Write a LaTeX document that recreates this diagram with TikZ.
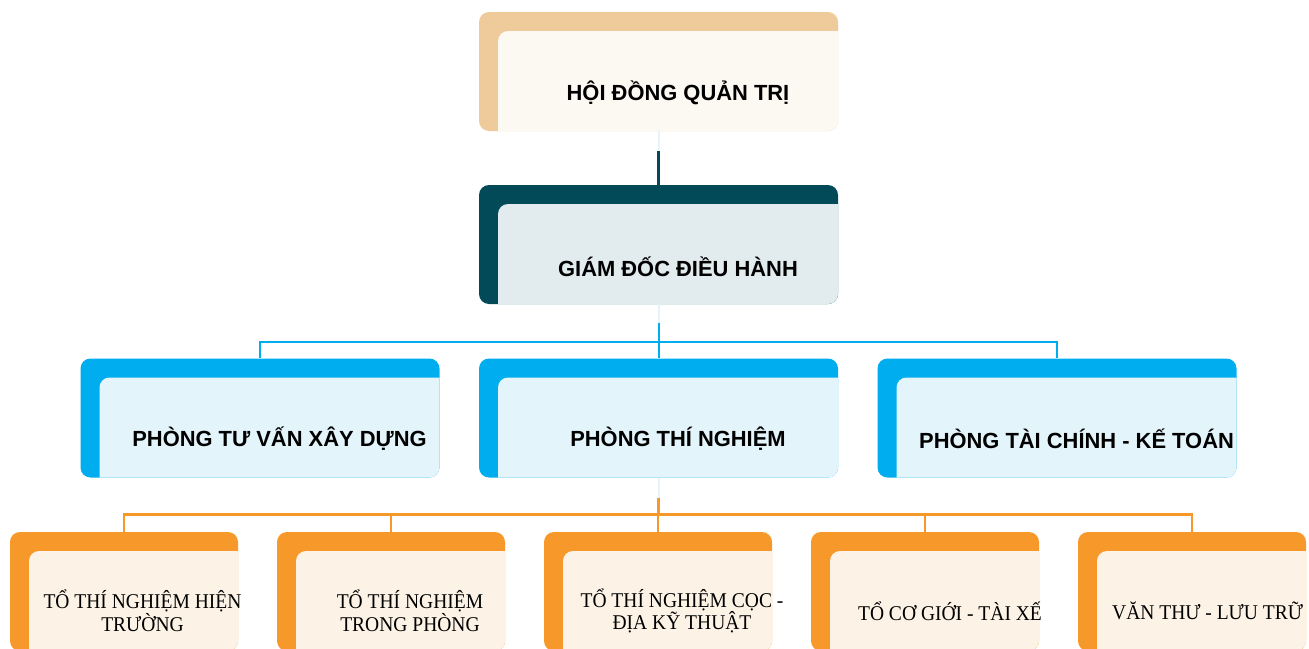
\documentclass[tikz,border=0pt]{standalone}
\usepackage{fontspec}
\setmainfont{Liberation Serif}
\newfontfamily\headfont{Liberation Sans}
\newfontfamily\teamfont[FakeStretch=0.93]{Liberation Serif}

\definecolor{boardtan}{HTML}{EFCB9C}
\definecolor{boardcream}{HTML}{FCF8F2}
\definecolor{ceoteal}{HTML}{034A58}
\definecolor{ceomist}{HTML}{E2EBEE}
\definecolor{deptblue}{HTML}{00AEEF}
\definecolor{deptice}{HTML}{E3F4FB}
\definecolor{teamorange}{HTML}{F7992A}
\definecolor{teamcream}{HTML}{FCF3E6}
\definecolor{palelink}{HTML}{E6F3F8}

\begin{document}
\begin{tikzpicture}[
        x=1pt, y=-1pt,
        unit/.style 2 args={rounded corners=10pt, fill=#1, inner sep=0pt,
            minimum width=359pt, minimum height=119pt,
            path picture={\fill[#2, rounded corners=10pt]
                ([shift={(19,19)}]path picture bounding box.north west) rectangle
                ([shift={(20,20)}]path picture bounding box.south east);}},
        team/.style 2 args={unit={#1}{#2}, minimum width=228pt},
        head/.style={font=\headfont\bfseries\fontsize{21.9}{24}\selectfont, inner sep=0pt},
        sub/.style={font=\teamfont\fontsize{21}{21}\selectfont, align=center, inner sep=0pt},
        link/.style={line width=2.5pt},
        faint/.style={line width=2pt, palelink}
    ]
        \useasboundingbox (0,0) rectangle (1309,648);

        % Top levels
        \node[unit={boardtan}{boardcream}] (hdqt) at (658.5,71.5) {};
        \node[head] (hdqt-t) at ([shift={(19.5,21)}]hdqt.center) {HỘI ĐỒNG QUẢN TRỊ};
        \node[unit={ceoteal}{ceomist}] (gd) at (658.5,244.5) {};
        \node[head] (gd-t) at ([shift={(19.5,22)}]gd.center) {GIÁM ĐỐC ĐIỀU HÀNH};

        % Departments
        \foreach \n/\x/\t in {
            ptv/260/PHÒNG TƯ VẤN XÂY DỰNG,
            ptn/658.5/PHÒNG THÍ NGHIỆM,
            ptc/1057/PHÒNG TÀI CHÍNH - KẾ TOÁN
        } {
            \node[unit={deptblue}{deptice}] (\n) at (\x,418) {};
            \node[head] (\n-t) at ([shift={(19.5,21)}]\n.center) {\t};
        }

        % Teams
        \foreach \n/\x/\dx/\t in {
            t1/124/18.5/{TỔ THÍ NGHIỆM HIỆN\\TRƯỜNG},
            t2/391/19/{TỔ THÍ NGHIỆM\\TRONG PHÒNG},
            t3/658/24/{TỔ THÍ NGHIỆM CỌC -\\ĐỊA KỸ THUẬT},
            t4/925/25/{TỔ CƠ GIỚI - TÀI XẾ},
            t5/1192/18/{VĂN THƯ - LƯU TRỮ}
        } {
            \node[team={teamorange}{teamcream}] (\n) at (\x,591.5) {};
            \node[sub] (\n-t) at ([shift={(\dx,19.5)}]\n.center) {\t};
        }

        % Connectors
        \draw[faint] (hdqt.south) -- (gd.north);
        \draw[link, ceoteal, shorten <=20pt] (hdqt.south) -- (gd.north);
        \draw[faint] (gd.south) -- ++(0,19);
        \foreach \n in {ptv,ptn,ptc}
            \draw[link, line width=2pt, deptblue, shorten <=19pt] (gd.south) -- ++(0,38) -| (\n.north);
        \draw[faint] (ptn.south) -- ++(0,20);
        \foreach \n in {t1,t2,t3,t4,t5}
            \draw[link, teamorange, shorten <=20pt] (ptn.south) -- ++(0,37) -| (\n.north);
    \end{tikzpicture}
\end{document}
